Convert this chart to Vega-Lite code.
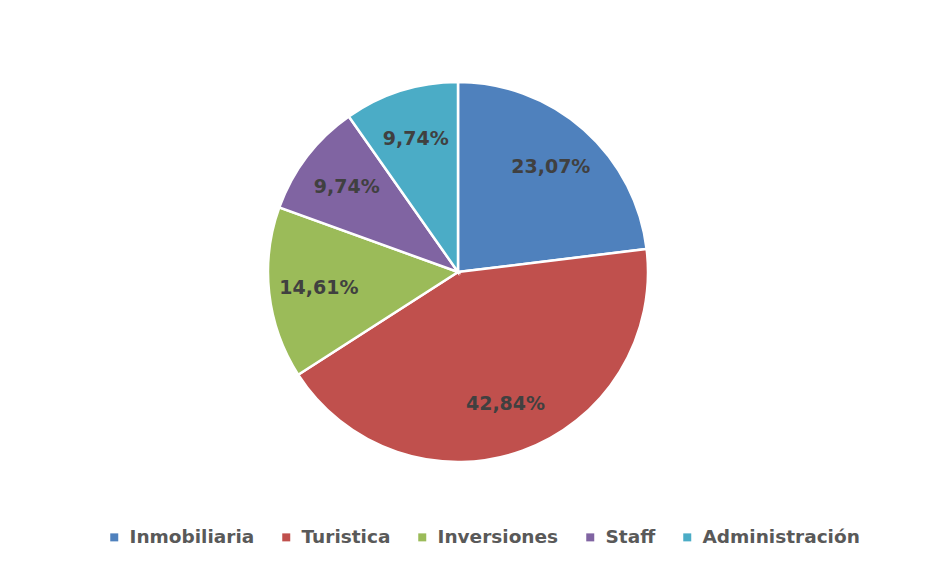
{
  "$schema": "https://vega.github.io/schema/vega-lite/v6.json",
  "width": 900,
  "height": 530,
  "padding": {"left": 8, "top": 7, "right": 42, "bottom": 29},
  "autosize": {"type": "none"},
  "background": "white",
  "view": {"stroke": null},
  "data": {
    "values": [
      {"categoria": "Inmobiliaria", "porcentaje": 23.07, "orden": 1, "etiqueta": "23,07%"},
      {"categoria": "Turistica", "porcentaje": 42.84, "orden": 2, "etiqueta": "42,84%"},
      {"categoria": "Inversiones", "porcentaje": 14.61, "orden": 3, "etiqueta": "14,61%"},
      {"categoria": "Staff", "porcentaje": 9.74, "orden": 4, "etiqueta": "9,74%"},
      {"categoria": "Administración", "porcentaje": 9.74, "orden": 5, "etiqueta": "9,74%"}
    ]
  },
  "encoding": {
    "theta": {"field": "porcentaje", "type": "quantitative", "stack": true},
    "order": {"field": "orden", "type": "quantitative"}
  },
  "layer": [
    {
      "mark": {"type": "arc", "outerRadius": 190, "stroke": "white", "strokeWidth": 2.5},
      "encoding": {
        "color": {
          "field": "categoria",
          "type": "nominal",
          "sort": ["Inmobiliaria", "Turistica", "Inversiones", "Staff", "Administración"],
          "scale": {
            "domain": ["Inmobiliaria", "Turistica", "Inversiones", "Staff", "Administración"],
            "range": ["#4F81BD", "#C0504D", "#9BBB59", "#8064A2", "#4BACC6"]
          },
          "legend": {
            "title": null,
            "orient": "none",
            "direction": "horizontal",
            "legendX": 97,
            "legendY": 521,
            "symbolType": "square",
            "symbolSize": 64,
            "symbolStrokeWidth": 0,
            "labelFont": "DejaVu Sans",
            "labelFontWeight": "bold",
            "labelFontSize": 18.5,
            "labelColor": "#595959",
            "labelLimit": 300,
            "labelOffset": 6,
            "columnPadding": 22,
            "symbolOffset": 0
          }
        }
      }
    },
    {
      "mark": {"type": "text", "radius": 140, "font": "DejaVu Sans", "fontWeight": "bold", "fontSize": 19, "color": "#404040"},
      "encoding": {
        "text": {"field": "etiqueta", "type": "nominal"}
      }
    }
  ]
}
